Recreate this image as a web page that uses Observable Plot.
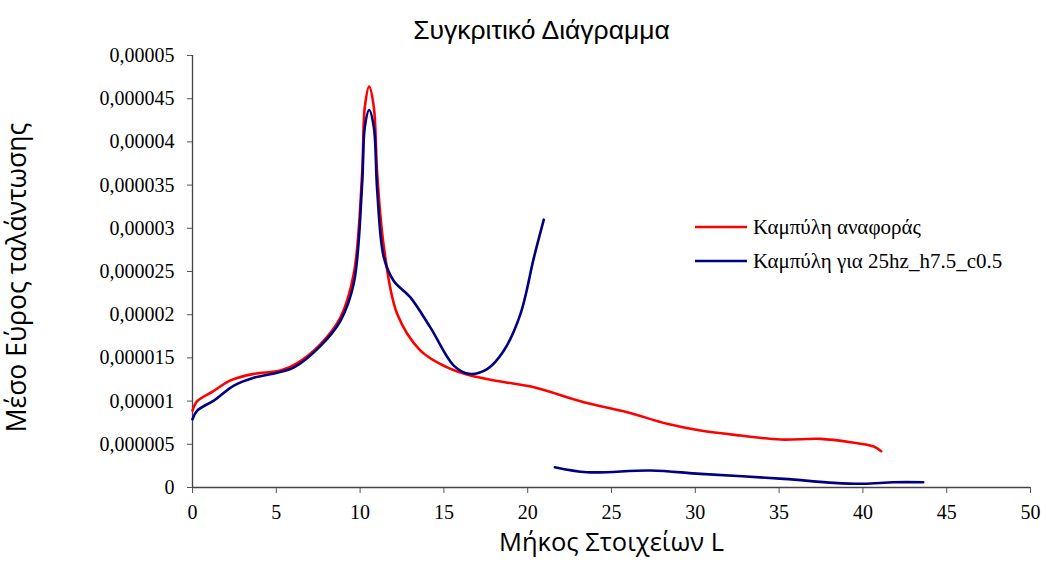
<!DOCTYPE html>
<html>
<head>
<meta charset="utf-8">
<script src="https://cdn.jsdelivr.net/npm/d3@7"></script>
<script src="https://cdn.jsdelivr.net/npm/@observablehq/plot@0.6"></script>
<style>
  html, body { margin: 0; padding: 0; background: #fff; }
  #wrap { position: relative; width: 1046px; height: 567px; }
  #legend { position: absolute; left: 695px; top: 210px; color: #000; }
  #legend .row { display: flex; align-items: center; height: 34px; }
  #legend span { font-family: 'Liberation Serif', 'Times New Roman', 'DejaVu Serif', serif; font-size: 21px; }
  #legend svg { margin-right: 6px; }
</style>
</head>
<body>
<div id="wrap"><div id="legend"></div></div>
<script>
const seriesNames = ["Καμπύλη αναφοράς", "Καμπύλη για 25hz_h7.5_c0.5"];
const seriesColors = ["#ff0000", "#000080"];

const xRef = [0, 0.28, 1.2, 2.27, 3.66, 5.25, 6.25, 7.64, 8.83, 9.62, 10.12, 10.28, 10.54, 10.82, 11.02, 11.42, 12.21, 13.6, 15.2, 16.59, 18.38, 20.37, 23.35, 25.94, 28.32, 30.31, 32.7, 35.08, 37.47, 39.26, 40.65, 41.09];
const yRef = [8.9e-6, 1.0e-5, 1.11e-5, 1.24e-5, 1.315e-5, 1.353e-5, 1.44e-5, 1.66e-5, 1.97e-5, 2.47e-5, 3.63e-5, 4.4e-5, 4.64e-5, 4.4e-5, 3.63e-5, 2.78e-5, 2.01e-5, 1.585e-5, 1.39e-5, 1.295e-5, 1.226e-5, 1.16e-5, 9.87e-6, 8.71e-6, 7.37e-6, 6.59e-6, 6.01e-6, 5.55e-6, 5.63e-6, 5.24e-6, 4.74e-6, 4.2e-6];

const xCmp = [0, 0.28, 1.27, 2.47, 3.66, 5.05, 6.05, 7.64, 8.83, 9.62, 10.12, 10.28, 10.54, 10.82, 11.02, 11.42, 12.01, 13.0, 14.2, 15.59, 16.49, 17.58, 18.58, 19.57, 20.37, 20.96, 21.3, 21.62, 23.55, 27.33, 30.31, 35.28, 38.26, 40.05, 41.84, 43.6];
const yCmp = [7.9e-6, 8.9e-6, 1.006e-5, 1.18e-5, 1.27e-5, 1.327e-5, 1.39e-5, 1.64e-5, 1.93e-5, 2.36e-5, 3.51e-5, 4.17e-5, 4.37e-5, 4.17e-5, 3.44e-5, 2.66e-5, 2.39e-5, 2.2e-5, 1.85e-5, 1.41e-5, 1.315e-5, 1.37e-5, 1.585e-5, 2.01e-5, 2.66e-5, 3.1e-5, NaN, 2.35e-6, 1.77e-6, 1.97e-6, 1.58e-6, 1.0e-6, 5.4e-7, 4.3e-7, 6.1e-7, 6.1e-7];

const yTicks = [0, 0.000005, 0.00001, 0.000015, 0.00002, 0.000025, 0.00003, 0.000035, 0.00004, 0.000045, 0.00005];
const yTickLabels = ["0", "0,000005", "0,00001", "0,000015", "0,00002", "0,000025", "0,00003", "0,000035", "0,00004", "0,000045", "0,00005"];
const xTicks = [0, 5, 10, 15, 20, 25, 30, 35, 40, 45, 50];

const data = [
  ...xRef.map((x, i) => ({x, y: yRef[i], s: seriesNames[0]})),
  ...xCmp.map((x, i) => ({x, y: yCmp[i], s: seriesNames[1]}))
];

const serif = "'Liberation Serif', 'DejaVu Serif', serif";
const sansTitle = "'Liberation Sans', Arial, sans-serif";
const sansLabel = "'Open Sans', 'Liberation Sans', sans-serif";

const chart = Plot.plot({
  width: 1046,
  height: 567,
  marginLeft: 192,
  marginRight: 16,
  marginTop: 55,
  marginBottom: 80,
  style: {background: "#fff", overflow: "visible", fontFamily: serif, fontSize: "19px"},
  x: {domain: [0, 50]},
  y: {domain: [0, 0.00005]},
  color: {domain: seriesNames, range: seriesColors},
  marks: [
    Plot.axisY({ticks: yTicks, tickFormat: d => yTickLabels[yTicks.indexOf(d)], tickSize: 5, tickPadding: 13, fontSize: 20, fontFamily: serif, label: null, stroke: "#555", fill: "#000"}),
    Plot.axisX({ticks: xTicks, tickSize: 6, tickPadding: 11, fontSize: 20, fontFamily: serif, label: null, stroke: "#555", fill: "#000"}),
    Plot.ruleX([0], {stroke: "#444", strokeWidth: 1.3}),
    Plot.ruleY([0], {stroke: "#444", strokeWidth: 1.3}),
    Plot.line(data, {x: "x", y: "y", z: "s", stroke: "s", strokeWidth: 2.6, curve: "catmull-rom"}),
    Plot.text(["Συγκριτικό Διάγραμμα"], {frameAnchor: "top", dx: -70, dy: -35, fontSize: 26.5, fontFamily: sansTitle, fill: "#000"}),
    Plot.text(["Μήκος Στοιχείων L"], {frameAnchor: "bottom", dy: 63, fontSize: 25.5, fontFamily: sansLabel, fill: "#000"}),
    Plot.text(["Μέσο Εύρος ταλάντωσης"], {frameAnchor: "left", textAnchor: "middle", rotate: -90, dx: -175, dy: 6, fontSize: 26.5, fontFamily: sansLabel, fill: "#000"})
  ]
});
document.getElementById("wrap").prepend(chart);

const legend = document.getElementById("legend");
seriesNames.forEach((name, i) => {
  const row = document.createElement("div");
  row.className = "row";
  row.innerHTML = `<svg width="52" height="4"><line x1="0" x2="52" y1="2" y2="2" stroke="${seriesColors[i]}" stroke-width="2.6"/></svg><span>${name}</span>`;
  legend.appendChild(row);
});
</script>
</body>
</html>
